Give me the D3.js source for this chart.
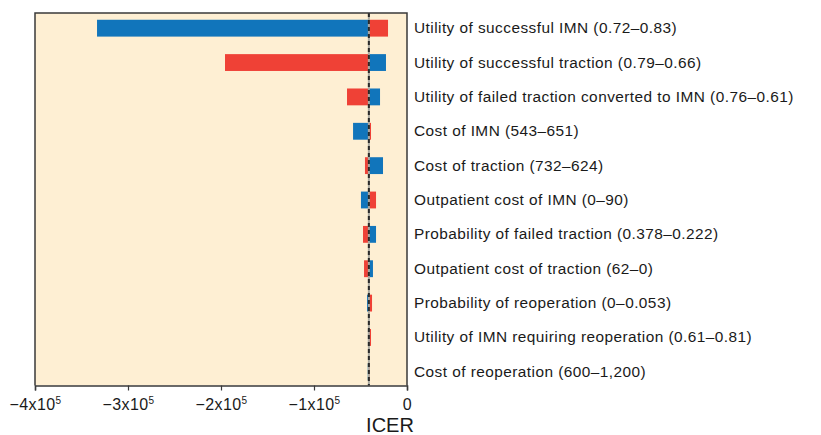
<!DOCTYPE html>
<html><head><meta charset="utf-8">
<script src="https://cdn.jsdelivr.net/npm/d3@7"></script>
<style>body{margin:0;background:#fff;} svg{display:block;}</style>
</head><body>
<script>
const categories = [
  "Utility of successful IMN (0.72–0.83)",
  "Utility of successful traction (0.79–0.66)",
  "Utility of failed traction converted to IMN (0.76–0.61)",
  "Cost of IMN (543–651)",
  "Cost of traction (732–624)",
  "Outpatient cost of IMN (0–90)",
  "Probability of failed traction (0.378–0.222)",
  "Outpatient cost of traction (62–0)",
  "Probability of reoperation (0–0.053)",
  "Utility of IMN requiring reoperation (0.61–0.81)",
  "Cost of reoperation (600–1,200)"
];
const baseICER = -41000;
// ICER at the end of the blue and red bars
const blueValues = [-333300, -22600, -29000, -58000, -25800, -49500, -33300, -36600, -43000, -42000, -42200];
const redValues  = [-20400, -195700, -64500, -38700, -45200, -33300, -47300, -46200, -37600, -38700, -41000];
const tickValues = [-400000, -300000, -200000, -100000, 0];
const tickLabels = ["−4x10", "−3x10", "−2x10", "−1x10", "0"];
const axisTitle = "ICER";

const W = 821, H = 435;
const mLeft = 35, mRight = 407, mTop = 13, mBottom = 385.5;
const svg = d3.select("body").append("svg").attr("width", W).attr("height", H)
  .style("font-family", "'Liberation Sans', Arial, sans-serif");

const x = d3.scaleLinear().domain([-400000, 0]).range([mLeft, mRight]);
const y = d3.scaleBand().domain(categories).range([11, 389]).paddingInner(0.51).paddingOuter(0.255);

svg.append("rect").attr("x", mLeft).attr("y", mTop).attr("width", mRight - mLeft).attr("height", mBottom - mTop)
  .attr("fill", "#FEEFD3");

const g = svg.append("g");
categories.forEach((c, i) => {
  [[blueValues[i], "#1175BB"], [redValues[i], "#EF4136"]].forEach(([v, col]) => {
    const x0 = Math.min(x(v), x(baseICER)), x1 = Math.max(x(v), x(baseICER));
    g.append("rect").attr("x", x0).attr("y", y(c)).attr("width", Math.max(x1 - x0, 0.8))
      .attr("height", y.bandwidth()).attr("fill", col);
  });
});

// baseline dashed line
svg.append("line").attr("x1", x(baseICER)).attr("x2", x(baseICER)).attr("y1", mTop).attr("y2", mBottom)
  .attr("stroke", "#a8a8a0").attr("stroke-width", 2);
svg.append("line").attr("x1", x(baseICER)).attr("x2", x(baseICER)).attr("y1", mTop).attr("y2", mBottom)
  .attr("stroke", "#2a2a2a").attr("stroke-width", 2).attr("stroke-dasharray", "4,3");

// frame
svg.append("path").attr("d", `M${mLeft},${mBottom}V${mTop}H${mRight}V${mBottom}`)
  .attr("fill", "none").attr("stroke", "#3a3a3a").attr("stroke-width", 1.5);

// axis
const axis = d3.axisBottom(x).tickValues(tickValues).tickSize(5).tickFormat("");
const ag = svg.append("g").attr("transform", `translate(0,${mBottom})`).call(axis);
ag.select(".domain").attr("stroke", "#3a3a3a").attr("stroke-width", 1.5);
ag.selectAll(".tick line").attr("stroke", "#3a3a3a").attr("stroke-width", 1.2);
ag.selectAll(".tick").each(function(d, i) {
  const t = d3.select(this).append("text").attr("y", 24).attr("fill", "#1a1a1a")
    .attr("font-size", 16).attr("letter-spacing", 0.4).attr("text-anchor", "middle");
  t.append("tspan").text(tickLabels[i]);
  if (d !== 0) t.append("tspan").attr("dy", -6).attr("font-size", 10).text("5");
});

svg.append("text").attr("x", 390).attr("y", 432).attr("text-anchor", "middle")
  .attr("font-size", 20).attr("fill", "#1a1a1a").text(axisTitle);

// category labels
svg.append("g").selectAll("text").data(categories).join("text")
  .attr("x", 414).attr("y", d => y(d) + y.bandwidth() / 2 + 5)
  .attr("font-size", 15.4).attr("letter-spacing", 0.45).attr("fill", "#1a1a1a").text(d => d);
</script>
</body></html>
